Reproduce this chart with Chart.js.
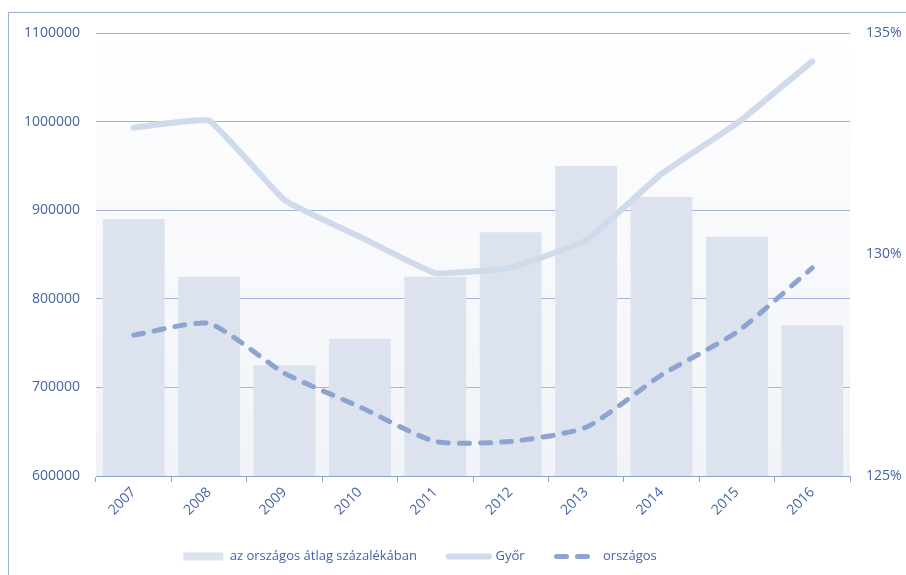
<!DOCTYPE html>
<html>
<head>
<meta charset="utf-8">
<script src="https://cdn.jsdelivr.net/npm/chart.js@4"></script>
<style>
  html, body { margin: 0; padding: 0; background: #fff; overflow: hidden; }
  #wrap { position: relative; width: 906px; height: 575px; }
  #frame { position: absolute; left: 8px; top: 12px; width: 1000px; height: 1000px;
           border: 1px solid #9db0d8; pointer-events: none; }
</style>
</head>
<body>
<div id="wrap">
  <canvas id="chart" width="906" height="575"></canvas>
  <div id="frame"></div>
</div>
<script>
const years = ['2007', '2008', '2009', '2010', '2011', '2012', '2013', '2014', '2015', '2016'];
// bars, right axis (percent of national average)
const szazalek = [130.8, 129.5, 127.5, 128.1, 129.5, 130.5, 132.0, 131.3, 130.4, 128.4];
// lines, left axis
const gyor = [993000, 1001000, 911500, 870000, 829000, 835000, 866000, 941000, 998000, 1068000];
const orszagos = [759000, 772000, 716000, 678000, 639000, 639000, 655000, 714000, 762500, 835000];
const leftTicks = [600000, 700000, 800000, 900000, 1000000, 1100000];
const rightTicks = [125, 130, 135];

const textColor = '#4364a6';
const axisColor = '#8ca3d1';
const gridColor = '#a2b3d7';

// light gradient behind the plot area
const plotBg = {
  id: 'plotBg',
  beforeDraw(chart) {
    const {ctx, chartArea: a} = chart;
    const g = ctx.createLinearGradient(0, a.top, 0, a.bottom);
    g.addColorStop(0, '#ffffff');
    g.addColorStop(1, '#f1f3f8');
    ctx.save();
    ctx.fillStyle = g;
    ctx.fillRect(a.left, a.top, a.right - a.left, a.bottom - a.top);
    ctx.restore();
  }
};

// the legend sits a bit left of centre in the original
const legendShift = {
  id: 'legendShift',
  afterLayout(chart) {
    chart.legend.left -= 33;
    chart.legend.right -= 33;
  }
};

Chart.defaults.font.family = '"Open Sans", sans-serif';
Chart.defaults.color = textColor;

new Chart(document.getElementById('chart'), {
  type: 'bar',
  data: {
    labels: years,
    datasets: [
      {
        label: 'az országos átlag százalékában',
        data: szazalek,
        yAxisID: 'y1',
        backgroundColor: '#dce3ef',
        barPercentage: 0.82,
        categoryPercentage: 1,
        order: 3
      },
      {
        type: 'line',
        label: 'Győr',
        data: gyor,
        yAxisID: 'y',
        borderColor: '#cfdaeb',
        backgroundColor: '#cfdaeb',
        borderWidth: 6,
        borderCapStyle: 'round',
        tension: 0.1,
        pointRadius: 0,
        order: 2
      },
      {
        type: 'line',
        label: 'országos',
        data: orszagos,
        yAxisID: 'y',
        borderColor: '#8da4d0',
        backgroundColor: '#8da4d0',
        borderWidth: 5,
        borderDash: [10, 11],
        borderCapStyle: 'round',
        tension: 0.2,
        pointRadius: 0,
        order: 1
      }
    ]
  },
  options: {
    responsive: false,
    animation: false,
    layout: { padding: { top: 33, left: 0, right: 0, bottom: 2 } },
    plugins: {
      tooltip: { enabled: false },
      legend: {
        position: 'bottom',
        labels: {
          font: { size: 13 },
          color: textColor,
          usePointStyle: true,
          pointStyleWidth: 40,
          boxHeight: 8,
          padding: 32,
          generateLabels(chart) {
            return chart.data.datasets.map((ds, i) => ({
              text: ds.label,
              fillStyle: ds.backgroundColor,
              strokeStyle: ds.type === 'line' ? ds.borderColor : ds.backgroundColor,
              lineWidth: ds.type === 'line' ? ds.borderWidth : 0,
              lineDash: ds.borderDash || [],
              lineCap: 'round',
              pointStyle: ds.type === 'line' ? 'line' : 'rect',
              fontColor: textColor,
              hidden: false,
              datasetIndex: i
            }));
          }
        }
      }
    },
    scales: {
      x: {
        grid: { display: true, drawOnChartArea: false, drawTicks: true, tickLength: 6, color: axisColor },
        border: { display: true, color: axisColor },
        ticks: { maxRotation: 45, minRotation: 45, font: { size: 14 }, color: textColor, padding: 2 },
        afterFit(scale) { scale.height = 42; }
      },
      y: {
        position: 'left',
        min: 600000,
        max: 1100000,
        afterBuildTicks(scale) { scale.ticks = leftTicks.map(v => ({ value: v })); },
        grid: { color: gridColor, drawTicks: false },
        border: { display: false },
        ticks: { font: { size: 14 }, color: textColor, padding: 16, callback: v => String(v) },
        afterFit(scale) { scale.width = 96; }
      },
      y1: {
        position: 'right',
        min: 125,
        max: 135,
        afterBuildTicks(scale) { scale.ticks = rightTicks.map(v => ({ value: v })); },
        grid: { display: false, drawTicks: false },
        border: { display: false },
        ticks: { font: { size: 14 }, color: textColor, padding: 16, callback: v => v + '%' },
        afterFit(scale) { scale.width = 56; }
      }
    }
  },
  plugins: [plotBg, legendShift]
});
</script>
</body>
</html>
